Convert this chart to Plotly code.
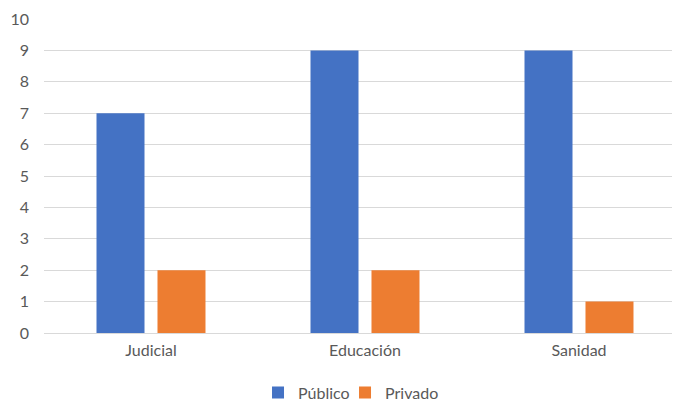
import plotly.graph_objects as go

categories = ["Judicial", "Educación", "Sanidad"]
publico = [7, 9, 9]
privado = [2, 2, 1]
y_ticks = list(range(0, 11))

font_family = "Lato, Carlito, Calibri, sans-serif"
grey = "#595959"

fig = go.Figure()
fig.add_trace(go.Bar(name="Público", x=categories, y=publico, marker_color="#4472C4",
                     marker_line_width=0, legend="legend"))
fig.add_trace(go.Bar(name="Privado", x=categories, y=privado, marker_color="#ED7D31",
                     marker_line_width=0, legend="legend2"))

legend_common = dict(orientation="h", xanchor="left", y=-0.19, yanchor="middle",
                     font=dict(size=16, color=grey), itemwidth=30,
                     bgcolor="rgba(0,0,0,0)")

fig.update_layout(
    width=672, height=394,
    margin=dict(l=36, r=0, t=11, b=69, autoexpand=False),
    paper_bgcolor="white", plot_bgcolor="white",
    barmode="group", bargap=0.43, bargroupgap=0.213,
    font=dict(family=font_family, size=16, color=grey),
    showlegend=True,
    legend=dict(x=0.3365, **legend_common),
    legend2=dict(x=0.4733, **legend_common),
    xaxis=dict(range=[-0.5, 2.472], showgrid=False, zeroline=False, showline=False,
               ticks="", ticklabelstandoff=6, tickfont=dict(size=16, color=grey)),
    yaxis=dict(range=[0, 10], tickvals=y_ticks, showgrid=True, gridcolor="#D9D9D9",
               gridwidth=1, zeroline=True, zerolinecolor="#D9D9D9", zerolinewidth=1,
               showline=False, ticks="", ticklabelstandoff=14,
               tickfont=dict(size=16, color=grey)),
)

fig.write_html("out.html")
